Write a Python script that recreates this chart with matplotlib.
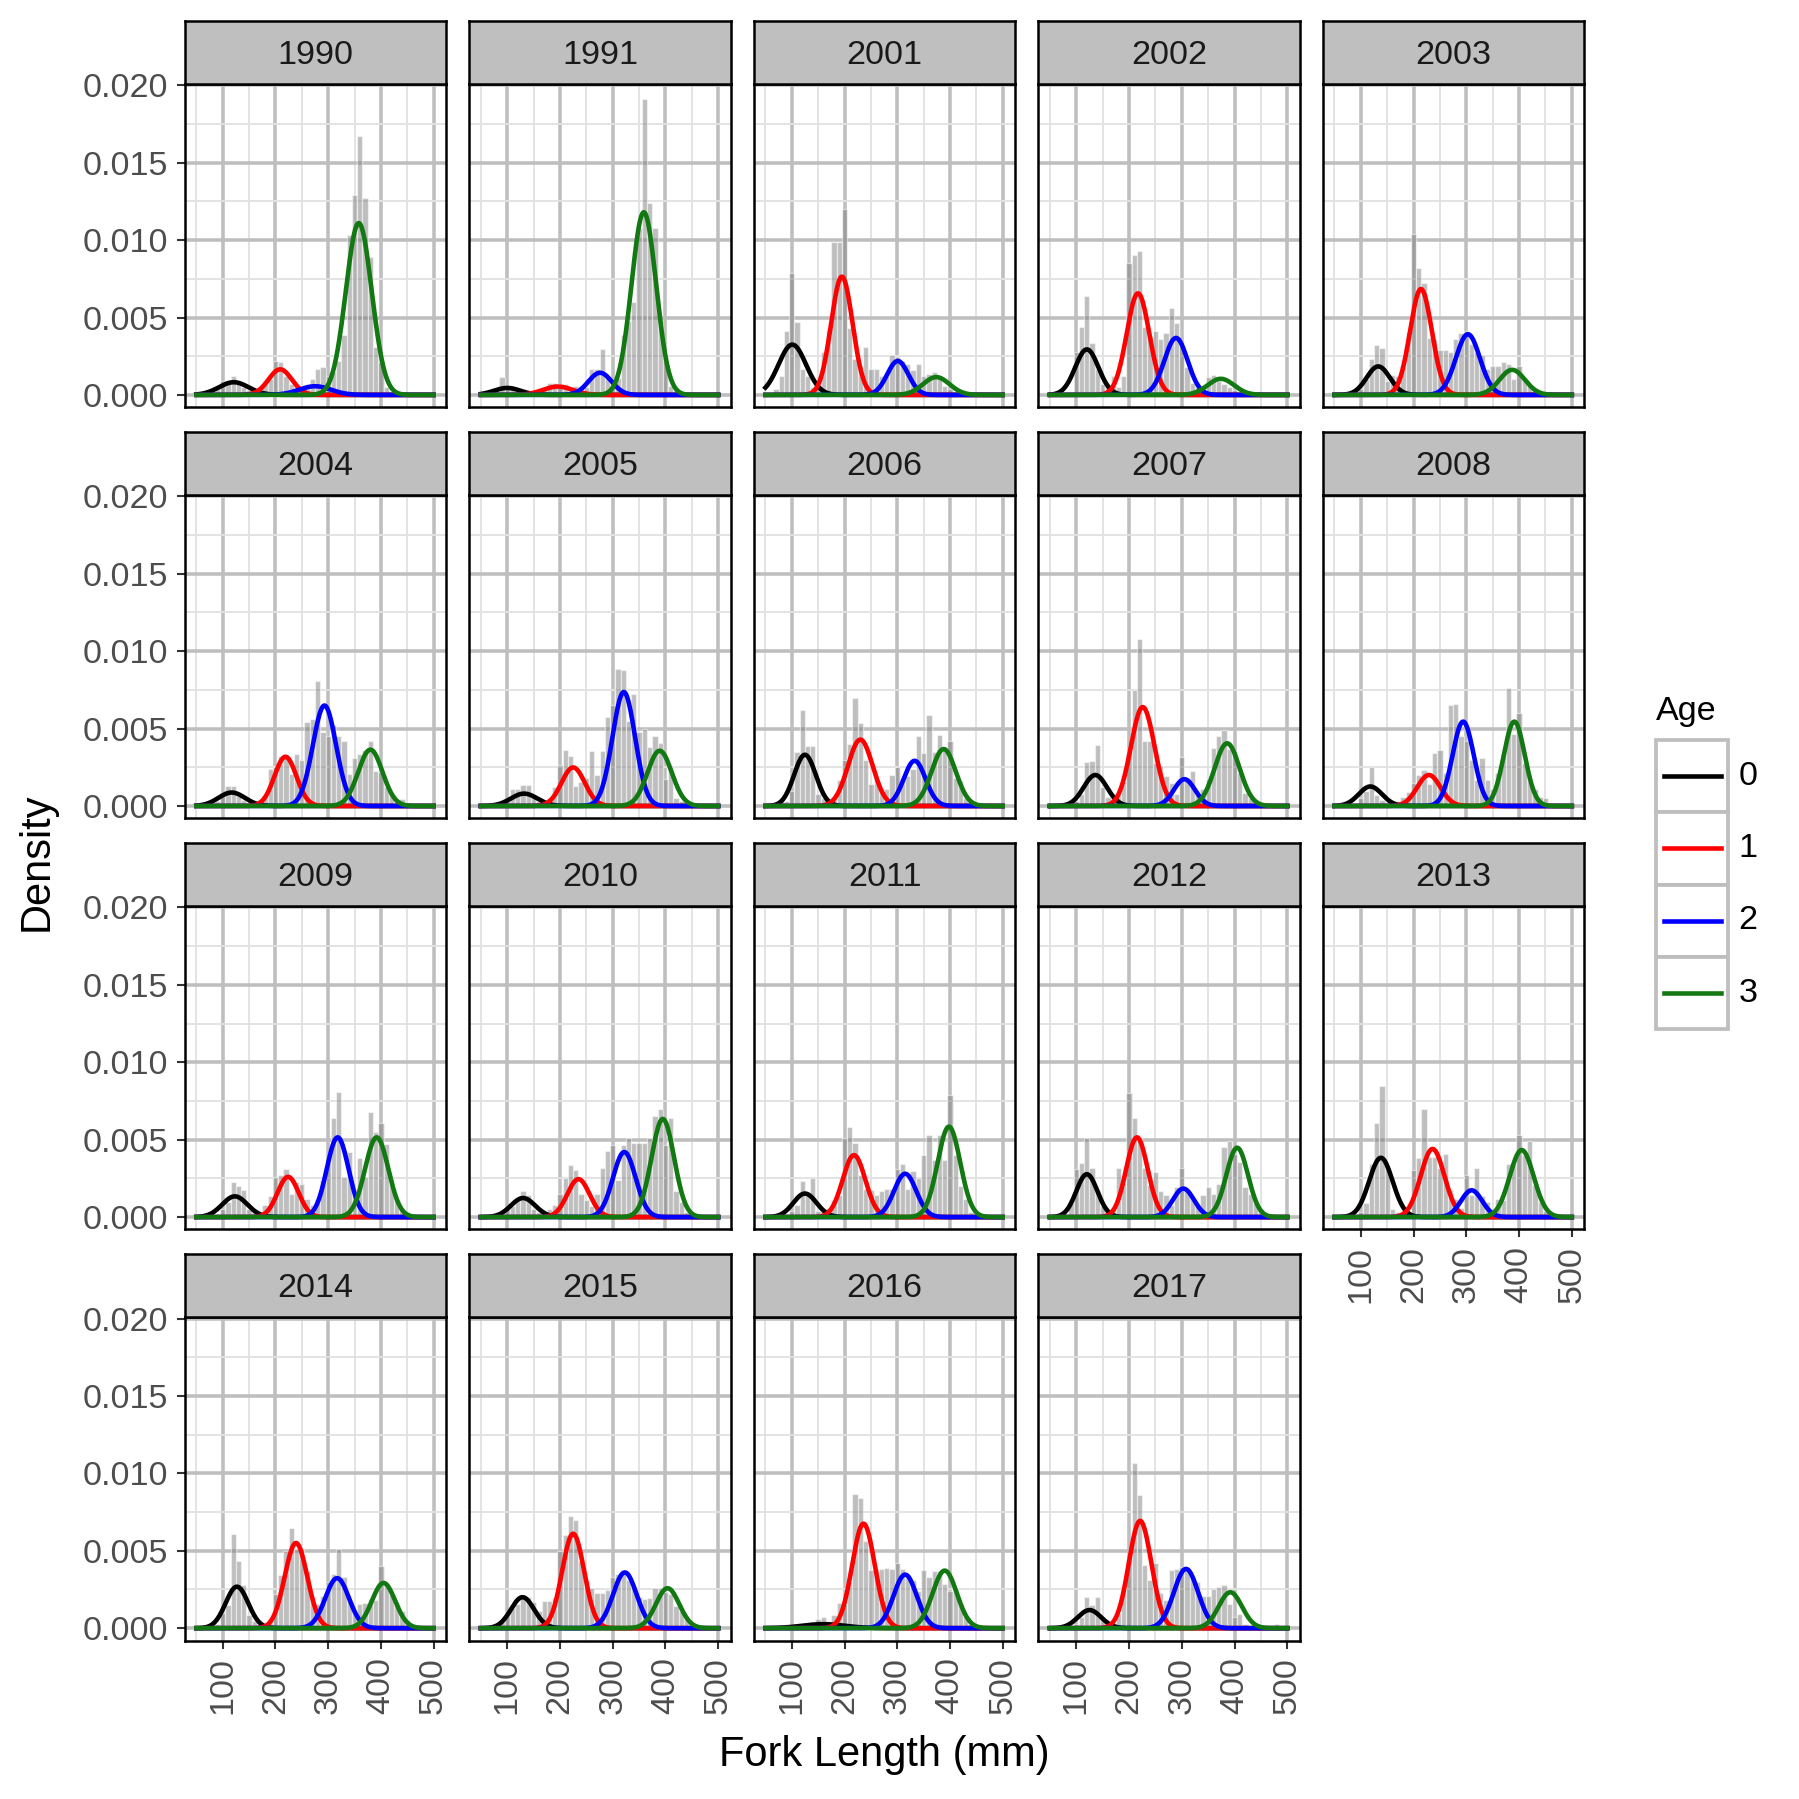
import numpy as np
import matplotlib.pyplot as plt
from matplotlib.patches import Rectangle
from matplotlib.lines import Line2D
from matplotlib.ticker import FixedLocator, FormatStrFormatter

plt.rcParams['font.family'] = ['Liberation Sans', 'DejaVu Sans']

years = [1990, 1991, 2001, 2002, 2003, 2004, 2005, 2006, 2007, 2008,
         2009, 2010, 2011, 2012, 2013, 2014, 2015, 2016, 2017]

# histogram bins: 10 mm wide, centres 60 ... 500 mm; heights are density x 1000
bin_centers = list(range(60, 501, 10))

h1990 = [0, 0.1, 0.2, 0.4, 0.9, 0.9, 1.25, 0.9, 0.5, 0.3,
         0.3, 0.5, 0.7, 1.0, 2.2, 2.15, 1.2, 0.7, 0.5, 0.4,
         0.6, 1.0, 1.65, 1.8, 1.2, 1.5, 2.2, 3.9, 10.3, 12.9,
         16.7, 12.7, 8.9, 3.1, 2.1, 0.5, 0.2, 0, 0, 0,
         0, 0, 0, 0, 0]
h1991 = [0, 0.1, 0.3, 1.15, 0.6, 0.4, 0.3, 0.3, 0.2, 0.2,
         0.3, 0.4, 0.8, 0.8, 0.7, 0.7, 0.5, 0.6, 0.4, 0.5,
         1.7, 1.7, 2.95, 1.1, 1.05, 1.1, 3.9, 4.8, 6.0, 10.8,
         19.1, 12.4, 10.8, 4.6, 2.2, 0.6, 0.3, 0, 0, 0,
         0, 0, 0, 0, 0]
h2001 = [0, 0.4, 1.2, 4.1, 7.9, 4.7, 1.7, 1.25, 0.5, 0.4,
         2.8, 4.2, 9.9, 9.9, 12.0, 4.35, 2.3, 1.9, 3.1, 1.7,
         1.7, 1.2, 1.2, 2.55, 2.45, 2.2, 2.0, 1.6, 2.0, 1.2,
         1.35, 1.5, 1.15, 0.6, 0.4, 0.2, 0, 0, 0, 0,
         0, 0, 0, 0, 0]
h2002 = [0, 0, 0.1, 0.2, 2.8, 4.4, 6.4, 3.35, 1.7, 0.7,
         0.5, 1.2, 0.5, 1.2, 8.5, 9.05, 9.3, 4.4, 3.8, 4.1,
         3.6, 4.0, 5.6, 4.65, 3.4, 1.8, 0.8, 0.5, 0.6, 1.15,
         1.3, 0.9, 0.7, 0.5, 0.3, 0.1, 0, 0, 0, 0,
         0, 0, 0, 0, 0]
h2003 = [0, 0, 0, 0.1, 0.4, 1.0, 2.3, 3.2, 3.0, 0.87,
         1.3, 1.2, 1.9, 4.07, 10.4, 8.2, 7.2, 3.7, 3.6, 2.9,
         2.9, 2.8, 3.6, 4.0, 4.1, 3.3, 2.8, 2.6, 1.65, 1.84,
         1.9, 2.1, 2.0, 1.0, 1.84, 1.0, 0.6, 0.4, 0.2, 0,
         0, 0, 0, 0, 0]
h2004 = [0, 0, 0.1, 0.3, 0.87, 1.3, 1.3, 0.65, 0.4, 0.2,
         0.2, 0.4, 0.65, 2.4, 2.5, 3.2, 3.3, 2.06, 3.35, 2.97,
         5.45, 5.6, 8.1, 4.8, 4.5, 5.26, 4.5, 4.2, 2.06, 3.07,
         3.35, 3.64, 4.2, 2.23, 2.2, 1.2, 0.84, 0.3, 0.43, 0.2,
         0, 0, 0, 0, 0]
h2005 = [0, 0, 0, 0.2, 0.4, 1.1, 1.1, 1.35, 1.35, 0.7,
         0.3, 0.3, 0.5, 1.2, 2.66, 3.64, 3.25, 1.3, 1.56, 1.84,
         3.57, 2.0, 3.57, 5.74, 6.5, 8.87, 8.8, 5.5, 7.25, 4.76,
         5.0, 3.83, 4.5, 4.05, 1.73, 2.5, 0.54, 0.3, 0.1, 0,
         0, 0, 0, 0, 0]
h2006 = [0, 0.1, 0.3, 0.3, 1.0, 3.46, 6.23, 3.85, 3.85, 0.8,
         0.5, 0.3, 0.5, 1.7, 3.0, 4.0, 6.97, 5.35, 3.0, 1.4,
         1.73, 1.0, 1.1, 2.0, 2.5, 1.84, 1.95, 2.4, 4.55, 3.4,
         5.9, 3.5, 4.6, 3.7, 4.2, 1.84, 1.6, 0.54, 0.3, 0,
         0, 0, 0, 0, 0]
h2007 = [0, 0, 0, 0.1, 0.3, 0.8, 2.86, 2.92, 3.96, 1.23,
         0.58, 0.58, 0.8, 1.56, 3.46, 7.47, 10.78, 4.2, 4.2, 2.8,
         2.6, 1.95, 1.5, 0.8, 3.14, 1.8, 2.23, 0.76, 1.1, 1.73,
         3.72, 4.55, 4.9, 3.65, 3.57, 2.16, 0.87, 0.5, 0.2, 0,
         0, 0, 0, 0, 0]
h2008 = [0, 0, 0, 0.2, 0.5, 1.0, 2.5, 0.7, 0.4, 0.2,
         0.2, 0.3, 0.6, 0.9, 1.5, 2.0, 2.3, 1.4, 3.4, 3.6,
         2.16, 6.5, 6.6, 4.5, 4.2, 3.0, 1.67, 3.07, 1.7, 1.1,
         2.1, 3.36, 7.6, 4.65, 6.0, 2.8, 1.6, 1.1, 0.6, 0.5,
         0.2, 0, 0, 0, 0]
h2009 = [0, 0, 0, 0.2, 0.5, 1.0, 2.27, 2.0, 1.77, 0.5,
         0.3, 0.3, 0.8, 1.34, 2.6, 2.7, 3.1, 1.5, 2.27, 2.16,
         1.2, 0.8, 1.2, 2.4, 3.57, 6.4, 8.1, 2.6, 4.2, 1.5,
         3.8, 2.6, 6.8, 5.5, 6.06, 4.7, 2.16, 1.1, 0.43, 0.3,
         0, 0, 0, 0, 0]
h2010 = [0, 0, 0, 0.2, 0.5, 0.7, 1.1, 1.7, 1.4, 0.5,
         0.3, 0.3, 0.5, 0.8, 1.5, 2.55, 3.36, 3.07, 1.47, 1.1,
         0.7, 1.5, 3.2, 4.3, 4.65, 2.4, 4.65, 5.1, 4.76, 4.8,
         4.76, 5.1, 6.5, 7.0, 4.65, 6.4, 1.7, 1.0, 0.3, 0,
         0, 0, 0, 0, 0]
h2011 = [0, 0, 0, 0.2, 0.4, 0.8, 2.34, 1.4, 2.53, 0.4,
         0.4, 0.6, 1.1, 1.45, 5.1, 5.8, 4.76, 2.75, 1.84, 1.77,
         1.4, 1.7, 1.8, 1.8, 3.1, 3.4, 1.84, 2.97, 2.55, 4.0,
         5.3, 3.7, 5.3, 3.7, 7.9, 4.0, 2.0, 1.2, 0.3, 0.3,
         0, 0, 0, 0, 0]
h2012 = [0, 0, 0.2, 0.93, 3.1, 3.5, 5.1, 3.2, 1.67, 0.7,
         0.5, 0.5, 3.2, 2.2, 8.0, 6.4, 5.1, 3.2, 2.1, 2.9,
         1.7, 1.4, 0.8, 1.95, 3.2, 1.73, 1.25, 0.76, 1.4, 1.95,
         1.5, 2.16, 4.55, 4.9, 4.05, 3.57, 1.95, 1.47, 0.97, 0.5,
         0, 0, 0, 0, 0]
h2013 = [0, 0, 0, 0.1, 0.3, 0.93, 3.42, 6.06, 8.44, 3.2,
         0.5, 0.3, 0.3, 0.3, 3.03, 3.8, 7.0, 3.9, 3.9, 3.14,
         4.05, 1.73, 1.2, 0.6, 2.75, 1.4, 3.18, 1.34, 1.0, 0.3,
         1.15, 1.1, 3.46, 3.46, 5.3, 4.0, 4.9, 2.1, 1.0, 0.4,
         0, 0, 0, 0, 0]
h2014 = [0, 0, 0, 0.3, 1.0, 1.5, 6.06, 4.37, 2.8, 0.87,
         0.48, 0.3, 0.3, 0.6, 2.2, 3.46, 5.0, 6.5, 5.13, 5.13,
         3.68, 2.0, 1.55, 2.1, 3.0, 3.5, 5.13, 3.3, 1.77, 1.1,
         1.56, 1.6, 1.9, 1.8, 4.0, 2.8, 2.2, 1.67, 1.1, 0.5,
         0, 0, 0, 0, 0]
h2015 = [0, 0, 0, 0.4, 1.08, 1.3, 1.56, 2.16, 2.0, 1.67,
         1.1, 1.77, 1.77, 1.95, 5.0, 6.0, 7.23, 7.0, 4.33, 3.1,
         2.58, 2.3, 2.3, 2.45, 3.3, 3.5, 3.7, 3.1, 2.75, 2.0,
         1.9, 1.95, 2.6, 2.6, 2.35, 2.2, 1.45, 1.1, 0.7, 0.3,
         0, 0, 0, 0, 0]
h2016 = [0, 0, 0, 0, 0, 0.1, 0.2, 0.3, 0.4, 0.58,
         0.73, 0.3, 0.84, 1.6, 1.56, 3.0, 8.66, 8.44, 5.63, 3.77,
         3.83, 3.8, 3.87, 3.83, 4.22, 3.8, 3.25, 3.1, 2.4, 3.77,
         3.3, 3.72, 3.72, 2.86, 2.38, 2.6, 1.6, 0.73, 0.3, 0,
         0, 0, 0, 0, 0]
h2017 = [0, 0, 0, 0, 0.3, 0.7, 2.03, 1.5, 2.03, 0.7,
         0.3, 0.3, 0.95, 2.68, 4.48, 10.7, 8.6, 4.05, 3.1, 4.2,
         2.3, 1.8, 3.77, 3.83, 3.94, 3.9, 3.3, 3.0, 2.1, 2.1,
         2.53, 2.68, 2.8, 1.56, 0.7, 0.9, 0.3, 0, 0, 0,
         0, 0, 0.26, 0, 0]

hist_by_year = [h1990, h1991, h2001, h2002, h2003, h2004, h2005, h2006, h2007, h2008,
                h2009, h2010, h2011, h2012, h2013, h2014, h2015, h2016, h2017]

# fitted normal components per year, ages 0..3
age_labels = ['0', '1', '2', '3']
age_colors = ['black', 'red', 'blue', '#127812']
age_means = [[121, 209, 275, 358], [100, 196, 276, 359], [101, 195, 301, 374],
             [120, 217, 289, 374], [133, 214, 303, 387], [117, 219, 293, 380],
             [132, 225, 321, 389], [125, 230, 333, 388], [136, 226, 305, 386],
             [118, 229, 294, 391], [123, 224, 318, 392], [130, 235, 322, 395],
             [125, 218, 315, 398], [120, 215, 303, 405], [138, 236, 310, 405],
             [127, 239, 317, 405], [129, 225, 323, 404], [160, 236, 315, 390],
             [125, 221, 308, 392]]
age_sds = [[28, 22, 30, 24.5], [25, 28, 22, 23.3], [26, 20.3, 20, 25],
           [22, 21.4, 22, 25], [22, 20.6, 22.8, 24], [25, 20.8, 22, 23],
           [25, 22, 21.4, 23], [20.6, 23.4, 20.6, 23], [22, 22.3, 20, 23.6],
           [22, 22, 20, 19.8], [24, 20, 20.6, 22], [23, 21, 21.4, 21.4],
           [22, 21.4, 21, 21.4], [20, 20.3, 20, 20.6], [22.3, 22.5, 20, 22.8],
           [21.4, 21.4, 22.3, 22], [22, 20.8, 22.3, 22], [40, 21.4, 22, 23],
           [22, 21.4, 23, 22]]
# peak density x 1000
age_peaks = [[0.82, 1.65, 0.56, 11.1], [0.45, 0.54, 1.43, 11.8], [3.25, 7.64, 2.19, 1.15],
             [2.94, 6.56, 3.68, 1.04], [1.84, 6.84, 3.92, 1.62], [0.87, 3.18, 6.49, 3.64],
             [0.8, 2.49, 7.36, 3.57], [3.31, 4.29, 2.92, 3.68], [2.0, 6.39, 1.73, 4.05],
             [1.26, 2.0, 5.45, 5.45], [1.34, 2.6, 5.15, 5.15], [1.23, 2.45, 4.2, 6.34],
             [1.52, 4.0, 2.8, 5.84], [2.77, 5.15, 1.84, 4.48], [3.83, 4.4, 1.73, 4.33],
             [2.68, 5.5, 3.23, 2.92], [2.0, 6.1, 3.6, 2.58], [0.26, 6.75, 3.46, 3.72],
             [1.17, 6.93, 3.83, 2.32]]

W = 1568.0  # layout measured on a 1568 px view of the figure


def frac(x, y, w, h):
    return [x / W, 1 - (y + h) / W, w / W, h / W]


fig = plt.figure(figsize=(1799 / 300, 1799 / 300), dpi=300)
xs = np.linspace(50, 500, 451)
grid_major = '#BEBEBE'
grid_minor = '#E2E2E2'

for i, year in enumerate(years):
    r, c = divmod(i, 5)
    x0 = 161 + 248 * c
    y0 = 18 + 358.3 * r
    ax = fig.add_axes(frac(x0, y0 + 55, 228, 282))
    st = fig.add_axes(frac(x0, y0, 228, 55))

    ax.bar(bin_centers, np.array(hist_by_year[i]) / 1000, width=10,
           color='#7F7F7F', alpha=0.5, edgecolor='white', linewidth=0.3, zorder=2)
    for k in range(4):
        mu, sd, pk = age_means[i][k], age_sds[i][k], age_peaks[i][k]
        ax.plot(xs, pk / 1000 * np.exp(-0.5 * ((xs - mu) / sd) ** 2),
                color=age_colors[k], lw=1.1, zorder=3)

    ax.set_xlim(28, 524)
    ax.set_ylim(-0.0008, 0.0201)
    ax.xaxis.set_major_locator(FixedLocator([100, 200, 300, 400, 500]))
    ax.xaxis.set_minor_locator(FixedLocator([50, 150, 250, 350, 450]))
    ax.yaxis.set_major_locator(FixedLocator([0, 0.005, 0.010, 0.015, 0.020]))
    ax.yaxis.set_minor_locator(FixedLocator([0.0025, 0.0075, 0.0125, 0.0175]))
    ax.yaxis.set_major_formatter(FormatStrFormatter('%.3f'))
    ax.set_axisbelow(True)
    ax.grid(which='major', color=grid_major, lw=0.85)
    ax.grid(which='minor', color=grid_minor, lw=0.45)
    for s in ax.spines.values():
        s.set_linewidth(0.6)
        s.set_color('black')

    ax.tick_params(which='minor', length=0)
    ax.tick_params(which='major', length=2.0, width=0.5, color='#333333',
                   labelsize=8.2, labelcolor='#4D4D4D', pad=2)
    if c == 0:
        ax.tick_params(axis='y', labelleft=True)
    else:
        ax.tick_params(axis='y', left=False, labelleft=False)
    bottom = (r == 3) or (r == 2 and c == 4)
    if bottom:
        ax.tick_params(axis='x', labelbottom=True, labelrotation=90)
    else:
        ax.tick_params(axis='x', bottom=False, labelbottom=False)

    st.set_facecolor('#BFBFBF')
    st.set_xticks([])
    st.set_yticks([])
    for s in st.spines.values():
        s.set_linewidth(0.6)
        s.set_color('black')
    st.text(0.5, 0.5, str(year), ha='center', va='center_baseline', fontsize=8.2,
            color='#1A1A1A', transform=st.transAxes)

fig.text(32 / W, 1 - 751 / W, 'Density', rotation=90, fontsize=10,
         ha='center', va='center')
fig.text(771 / W, 1 - 1530 / W, 'Fork Length (mm)', fontsize=10,
         ha='center', va='center')

# legend
fig.text(1443 / W, 1 - 620 / W, 'Age', fontsize=8.2, ha='left', va='center')
for k in range(4):
    top = 645 + 63 * k
    fig.patches.append(Rectangle((1443 / W, 1 - (top + 63) / W), 63 / W, 63 / W,
                                 transform=fig.transFigure, facecolor='white',
                                 edgecolor='#BEBEBE', lw=0.9))
    yc = 1 - (top + 31.5) / W
    fig.lines.append(Line2D([1450 / W, 1500 / W], [yc, yc], transform=fig.transFigure,
                            color=age_colors[k], lw=1.1))
    fig.text(1515 / W, yc, age_labels[k], fontsize=8.2, ha='left', va='center')

fig.savefig('out.png', dpi=300)
